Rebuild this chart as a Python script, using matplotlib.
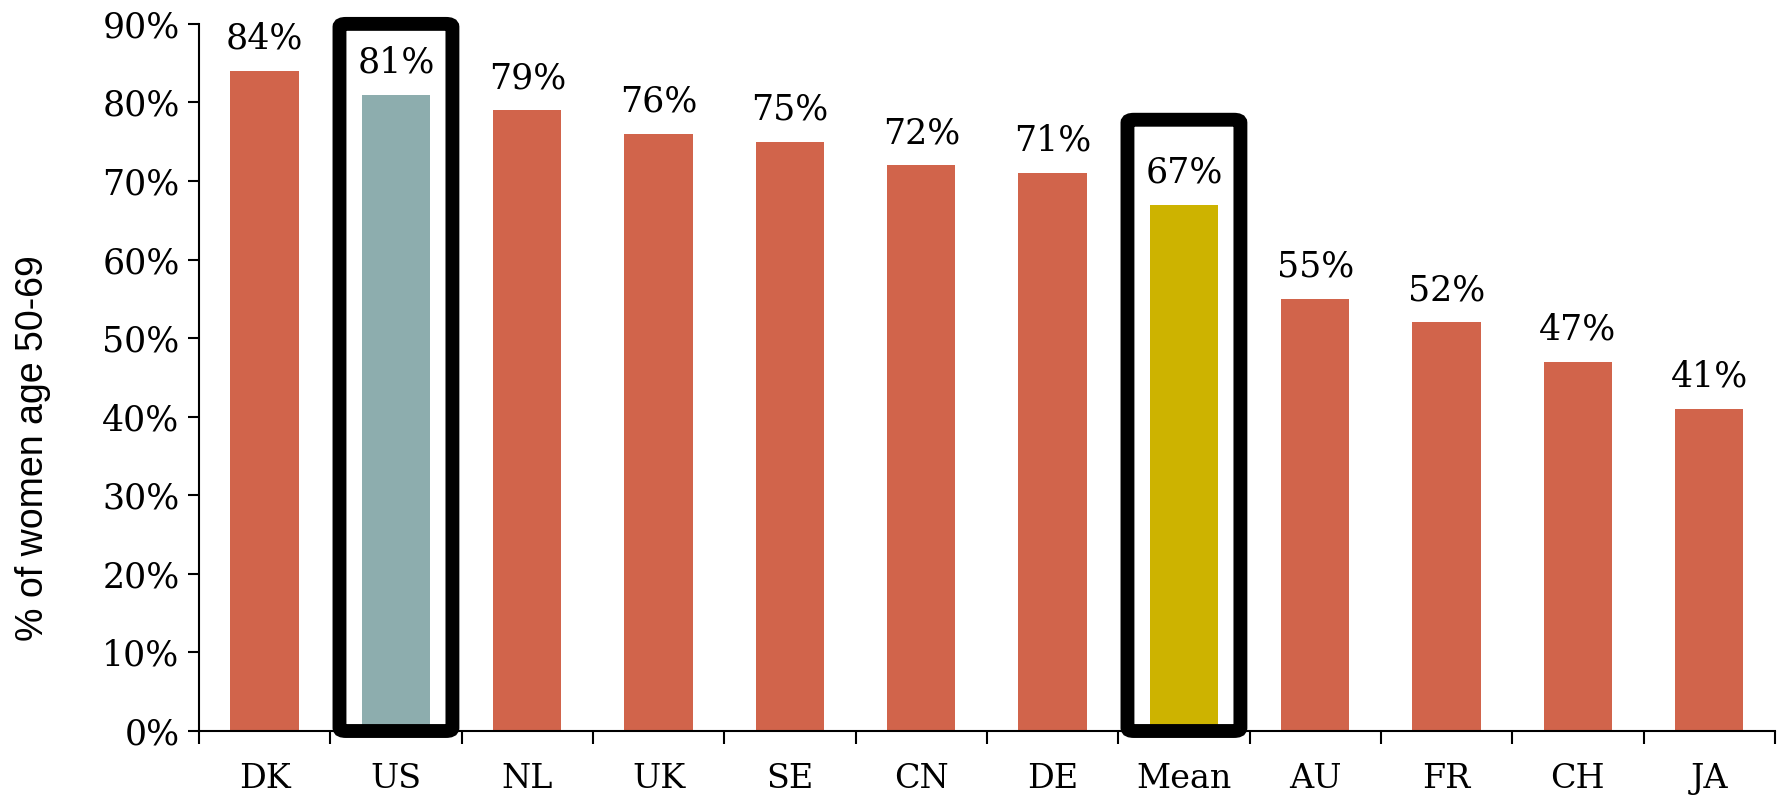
import matplotlib
matplotlib.use("Agg")
import matplotlib.pyplot as plt
from matplotlib.patches import FancyBboxPatch
from matplotlib.ticker import FixedLocator, PercentFormatter

countries = ["DK", "US", "NL", "UK", "SE", "CN", "DE", "Mean", "AU", "FR", "CH", "JA"]
screened = [84, 81, 79, 76, 75, 72, 71, 67, 55, 52, 47, 41]
highlighted = {"US": "#8DADAE", "Mean": "#CDB300"}
base_color = "#D1644B"

fig = plt.figure(figsize=(17.86, 7.99), dpi=100)
ax = fig.add_axes([0.1114, 0.0851, 0.8824, 0.885])

x = list(range(len(countries)))
colors = [highlighted.get(c, base_color) for c in countries]
bars = ax.bar(x, screened, width=0.52, color=colors, zorder=2)

serif = "DejaVu Serif"
for xi, v in zip(x, screened):
    ax.annotate("{}%".format(v), (xi, v), xytext=(0, 11), textcoords="offset points",
                ha="center", va="bottom", fontsize=25, family=serif)

ax.set_xlim(-0.5, len(countries) - 0.5)
ax.set_ylim(0, 90)
ax.set_yticks(range(0, 91, 10))
ax.yaxis.set_major_formatter(PercentFormatter(decimals=0))
ax.set_xticks(x)
ax.set_xticklabels(countries)
ax.xaxis.set_minor_locator(FixedLocator([i - 0.5 for i in range(len(countries) + 1)]))
ax.tick_params(axis="x", which="major", length=0, pad=23, labelsize=24)
ax.tick_params(axis="x", which="minor", length=9, width=1.5, direction="out")
ax.tick_params(axis="y", length=8, width=1.5, direction="out", labelsize=25, pad=6)
for lbl in ax.get_xticklabels() + ax.get_yticklabels():
    lbl.set_family(serif)

for side in ["top", "right"]:
    ax.spines[side].set_visible(False)
for side in ["left", "bottom"]:
    ax.spines[side].set_linewidth(1.5)

ax.set_ylabel("% of women age 50-69", fontsize=27, family="Liberation Sans")
ax.yaxis.set_label_coords(-0.094, 0.40)

# highlight boxes around US and Mean
for name, top in [("US", 90.0), ("Mean", 77.8)]:
    i = countries.index(name)
    box = FancyBboxPatch((i - 0.43, 0), 0.86, top,
                         boxstyle="round,pad=0,rounding_size=0.05",
                         fill=False, edgecolor="black", linewidth=10,
                         clip_on=False, zorder=3, mutation_aspect=8)
    ax.add_patch(box)

fig.savefig("out.png", dpi=100)
